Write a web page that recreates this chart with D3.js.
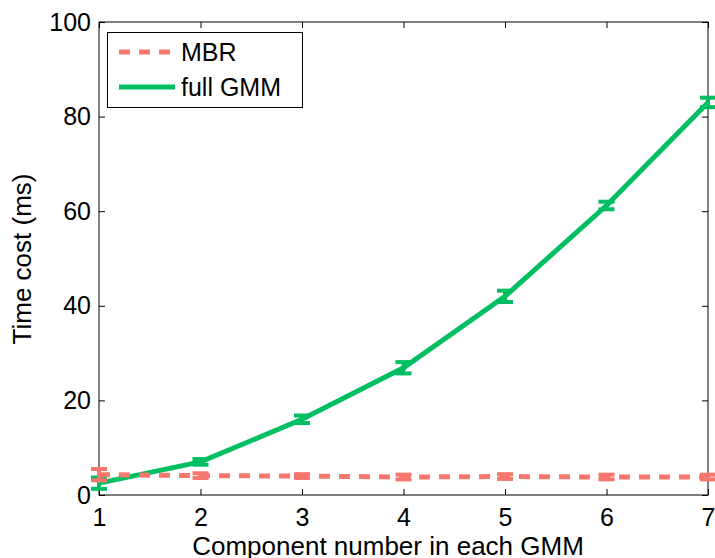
<!DOCTYPE html>
<html>
<head>
<meta charset="utf-8">
<script src="https://cdn.jsdelivr.net/npm/d3@7"></script>
<style>
  html, body { margin: 0; padding: 0; background: #fff; overflow: hidden; }
  text { font-family: "Liberation Sans", Arial, sans-serif; fill: #000; }
</style>
</head>
<body>
<svg id="chart" width="715" height="558"></svg>
<script>
// Component counts on the x axis
const components = [1, 2, 3, 4, 5, 6, 7];
// Mean time cost (ms) and error half-widths per method
const mbrValues = [4.3, 4.1, 4.0, 3.8, 3.9, 3.8, 3.8];
const mbrErrors = [1.2, 0.5, 0.4, 0.5, 0.5, 0.5, 0.5];
const gmmValues = [2.5, 7.0, 16.0, 26.9, 42.0, 61.2, 83.0];
const gmmErrors = [1.2, 0.6, 0.8, 1.2, 1.2, 0.8, 1.0];
const yTicks = [0, 20, 40, 60, 80, 100];
const seriesNames = ["MBR", "full GMM"];

const svg = d3.select("#chart");
const m = { left: 99, right: 708, top: 22, bottom: 495 };

const x = d3.scaleLinear().domain([1, 7]).range([m.left, m.right]);
const y = d3.scaleLinear().domain([0, 100]).range([m.bottom, m.top]);

const red = "#F8766D", green = "#00BF63";
const tickFont = 25, labelFont = 26;

// Plot box
svg.append("rect")
  .attr("x", m.left).attr("y", m.top)
  .attr("width", m.right - m.left).attr("height", m.bottom - m.top)
  .attr("fill", "none").attr("stroke", "#000").attr("stroke-width", 1);

// Inward ticks on all four sides
const tl = 6;
const axB = d3.axisBottom(x).tickValues(components).tickSizeInner(-tl).tickSizeOuter(0).tickPadding(13).tickFormat(d3.format("d"));
const axT = d3.axisTop(x).tickValues(components).tickSizeInner(-tl).tickSizeOuter(0).tickFormat("");
const axL = d3.axisLeft(y).tickValues(yTicks).tickSizeInner(-tl).tickSizeOuter(0).tickPadding(8);
const axR = d3.axisRight(y).tickValues(yTicks).tickSizeInner(-tl).tickSizeOuter(0).tickFormat("");

function styleAxis(g) {
  g.select(".domain").remove();
  g.selectAll(".tick line").attr("stroke", "#000");
  g.selectAll("text").attr("font-size", tickFont).style("font-family", '"Liberation Sans", Arial, sans-serif');
}
svg.append("g").attr("transform", `translate(0,${m.bottom})`).call(axB).call(styleAxis);
svg.append("g").attr("transform", `translate(0,${m.top})`).call(axT).call(styleAxis);
svg.append("g").attr("transform", `translate(${m.left},0)`).call(axL).call(styleAxis);
svg.append("g").attr("transform", `translate(${m.right},0)`).call(axR).call(styleAxis);

// Axis titles
svg.append("text")
  .attr("x", 388).attr("y", 555)
  .attr("text-anchor", "middle").attr("font-size", labelFont)
  .text("Component number in each GMM");
svg.append("text")
  .attr("transform", `translate(31,259) rotate(-90)`)
  .attr("text-anchor", "middle").attr("font-size", labelFont)
  .text("Time cost (ms)");

const plot = svg.append("g");

function drawSeries(vals, errs, color, dash) {
  const pts = components.map((c, i) => ({ c, v: vals[i], e: errs[i] }));
  const line = d3.line().x(d => x(d.c)).y(d => y(d.v));
  plot.append("path").datum(pts)
    .attr("d", line).attr("fill", "none")
    .attr("stroke", color).attr("stroke-width", 5)
    .attr("stroke-dasharray", dash || null);
  const eb = plot.append("g").selectAll("g").data(pts).join("g");
  const cap = 8;
  eb.append("line")
    .attr("x1", d => x(d.c)).attr("x2", d => x(d.c))
    .attr("y1", d => y(d.v - d.e)).attr("y2", d => y(d.v + d.e))
    .attr("stroke", color).attr("stroke-width", 4);
  eb.append("line")
    .attr("x1", d => x(d.c) - cap).attr("x2", d => x(d.c) + cap)
    .attr("y1", d => y(d.v - d.e)).attr("y2", d => y(d.v - d.e))
    .attr("stroke", color).attr("stroke-width", 4);
  eb.append("line")
    .attr("x1", d => x(d.c) - cap).attr("x2", d => x(d.c) + cap)
    .attr("y1", d => y(d.v + d.e)).attr("y2", d => y(d.v + d.e))
    .attr("stroke", color).attr("stroke-width", 4);
}

drawSeries(gmmValues, gmmErrors, green, null);
drawSeries(mbrValues, mbrErrors, red, "11,9");

// Legend
const lg = svg.append("g");
lg.append("rect").attr("x", 107.5).attr("y", 32.5).attr("width", 195).attr("height", 75)
  .attr("fill", "#fff").attr("stroke", "#000").attr("stroke-width", 1);
const legendRows = [
  { name: seriesNames[0], color: red, dash: "11,9", yy: 52 },
  { name: seriesNames[1], color: green, dash: null, yy: 87 }
];
legendRows.forEach(r => {
  lg.append("line").attr("x1", 119).attr("x2", 175).attr("y1", r.yy).attr("y2", r.yy)
    .attr("stroke", r.color).attr("stroke-width", 5).attr("stroke-dasharray", r.dash);
  lg.append("text").attr("x", 181).attr("y", r.yy + 9).attr("font-size", 25).text(r.name);
});
</script>
</body>
</html>
